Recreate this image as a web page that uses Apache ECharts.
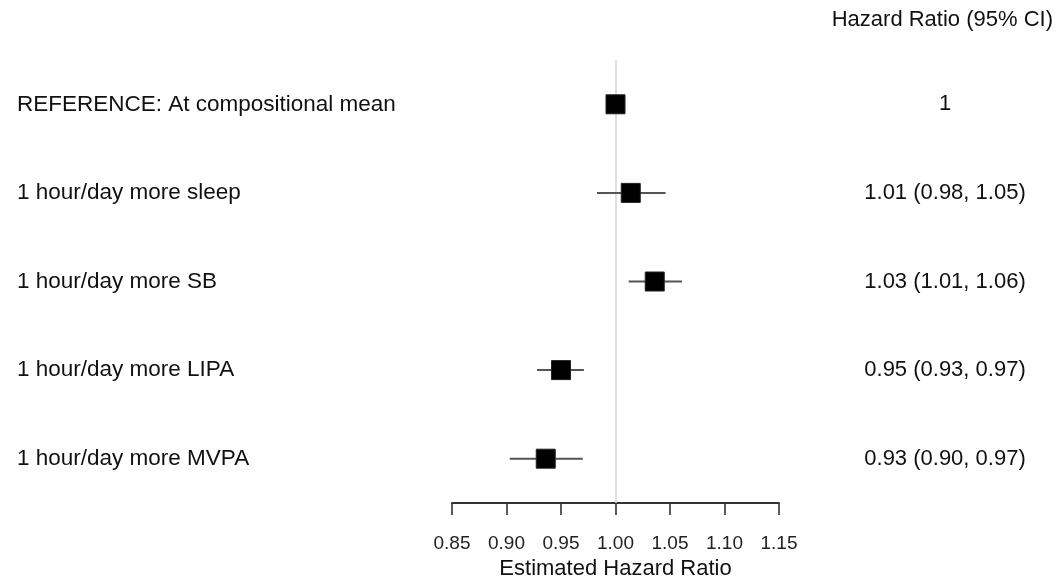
<!DOCTYPE html>
<html>
<head>
<meta charset="utf-8">
<script src="https://cdn.jsdelivr.net/npm/echarts@6/dist/echarts.min.js"></script>
<style>html,body{margin:0;padding:0;background:#fff}#c{width:1062px;height:580px}</style>
</head>
<body>
<div id="c"></div>
<script>
var labels = ['REFERENCE: At compositional mean', '1 hour/day more sleep', '1 hour/day more SB', '1 hour/day more LIPA', '1 hour/day more MVPA'];
var hr = [1.000, 1.014, 1.036, 0.950, 0.936];
var lower = [null, 0.983, 1.012, 0.928, 0.903];
var upper = [null, 1.046, 1.061, 0.971, 0.970];
var hrText = ['1', '1.01 (0.98, 1.05)', '1.03 (1.01, 1.06)', '0.95 (0.93, 0.97)', '0.93 (0.90, 0.97)'];
var xTicks = [0.85, 0.90, 0.95, 1.00, 1.05, 1.10, 1.15];

var FONT = '"Liberation Sans", Arial, sans-serif';
var data = labels.map(function (l, i) { return [i, hr[i], lower[i], upper[i]]; });

var chart = echarts.init(document.getElementById('c'), null, {renderer: 'canvas'});
chart.setOption({
  animation: false,
  backgroundColor: '#fff',
  title: {
    text: 'Hazard Ratio (95% CI)',
    right: 4, top: 4,
    textStyle: {fontFamily: FONT, fontSize: 22, fontWeight: 'normal', color: '#111'}
  },
  grid: {left: 452, width: 327, top: 60, height: 443, containLabel: false, outerBoundsMode: 'none'},
  xAxis: {
    type: 'value', min: xTicks[0], max: xTicks[xTicks.length - 1], interval: 0.05,
    splitLine: {show: false},
    axisLine: {show: true, lineStyle: {color: '#333', width: 1.8}},
    axisTick: {show: true, length: 12, lineStyle: {color: '#333', width: 1.6}},
    axisLabel: {margin: 31, fontFamily: FONT, fontSize: 19, color: '#222',
      formatter: function (v) { return v.toFixed(2); }},
    name: 'Estimated Hazard Ratio', nameLocation: 'middle', nameGap: 50,
    nameTextStyle: {fontFamily: FONT, fontSize: 22, color: '#111'}
  },
  yAxis: [{
    type: 'category', data: labels, inverse: true,
    axisLine: {show: false}, axisTick: {show: false}, splitLine: {show: false},
    axisLabel: {align: 'left', margin: 435, padding: [3, 0, 0, 0], fontFamily: FONT, fontSize: 22.5, color: '#111'}
  }, {
    type: 'category', data: hrText, inverse: true, position: 'right',
    axisLine: {show: false}, axisTick: {show: false}, splitLine: {show: false},
    axisLabel: {align: 'center', margin: 166, padding: [3, 0, 0, 0], fontFamily: FONT, fontSize: 22, color: '#111'}
  }],
  series: [{
    type: 'custom',
    data: data,
    encode: {x: [1, 2, 3], y: 0},
    renderItem: function (params, api) {
      var idx = api.value(0);
      var c = api.coord([api.value(1), idx]);
      var children = [];
      var lo = api.value(2), hi = api.value(3);
      if (lo != null && !isNaN(lo) && hi != null && !isNaN(hi)) {
        var a = api.coord([lo, idx]), b = api.coord([hi, idx]);
        children.push({type: 'line', shape: {x1: a[0], y1: a[1], x2: b[0], y2: b[1]},
          style: {stroke: '#555', lineWidth: 2}});
      }
      var s = 19;
      children.push({type: 'rect', shape: {x: c[0] - s / 2, y: c[1] - s / 2, width: s, height: s},
        style: {fill: '#000', stroke: '#222', lineWidth: 1}});
      return {type: 'group', children: children};
    },
    markLine: {
      silent: true, symbol: 'none', label: {show: false},
      lineStyle: {color: '#d4d4d4', width: 1.5, type: 'solid'},
      data: [{xAxis: 1}],
      z: 1
    },
    z: 5
  }]
});
</script>
</body>
</html>
